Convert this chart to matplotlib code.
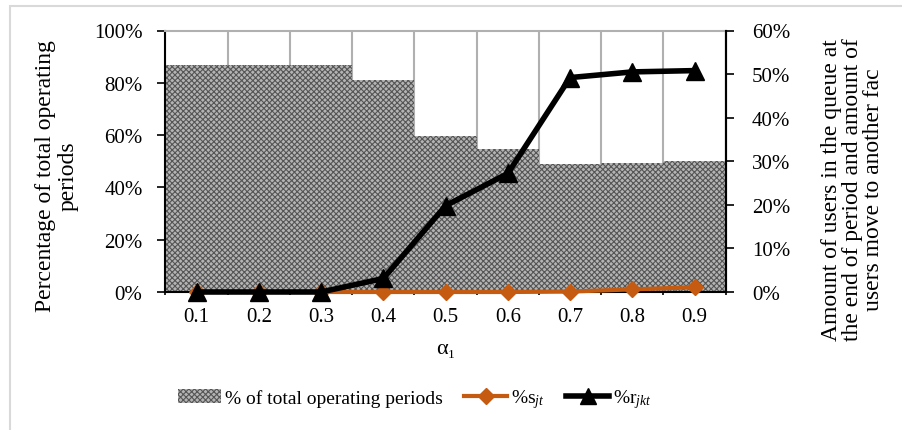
import matplotlib
matplotlib.use("Agg")
import matplotlib.pyplot as plt
from matplotlib.patches import Rectangle, Patch
from matplotlib.lines import Line2D
from matplotlib.ticker import FuncFormatter

alpha = ["0.1", "0.2", "0.3", "0.4", "0.5", "0.6", "0.7", "0.8", "0.9"]
pct_periods = [86.8, 86.8, 86.8, 81.0, 59.7, 54.6, 48.9, 49.4, 50.0]
s_jt = [0.0, 0.0, 0.0, 0.0, 0.0, 0.0, 0.1, 0.6, 1.1]
r_jkt = [0.0, 0.0, 0.0, 3.1, 19.8, 27.2, 49.2, 50.5, 50.8]

plt.rcParams['font.family'] = ['Liberation Serif', 'DejaVu Serif']
plt.rcParams['mathtext.fontset'] = 'custom'
plt.rcParams['mathtext.rm'] = 'Liberation Serif'
plt.rcParams['mathtext.it'] = 'Liberation Serif:italic'
plt.rcParams['hatch.color'] = '#555555'
plt.rcParams['hatch.linewidth'] = 0.8

BAR_FC = '#b4b4b4'

fig = plt.figure(figsize=(9.03, 4.31), dpi=100)
ax = fig.add_axes([165.5/903, 1-293/431, (725.7-165.5)/903, (293-31.5)/431])

x = list(range(len(alpha)))
ax.bar(x, pct_periods, width=1.0, color=BAR_FC, hatch='xxxxxx',
       linewidth=0, zorder=2)
ax.set_xlim(-0.5, len(alpha)-0.5)
ax.set_ylim(0, 100)
ax.set_yticks([0, 20, 40, 60, 80, 100])
ax.yaxis.set_major_formatter(FuncFormatter(lambda v, p: f"{v:.0f}%"))
ax.set_xticks(x)
ax.set_xticklabels(alpha)
ax.set_xticks([i-0.5 for i in range(len(alpha)+1)], minor=True)
ax.tick_params(axis='x', which='major', length=0, labelsize=15, pad=11)
ax.tick_params(axis='x', which='minor', length=5, width=1.2, direction='inout', color='black')
ax.tick_params(axis='y', labelsize=15, length=6, width=1.2, direction='out', pad=10.5)
ax.grid(axis='x', which='minor', color='#b0b0b0', linewidth=1.5, zorder=1)
ax.spines['top'].set_color('#b0b0b0')
ax.spines['top'].set_linewidth(1.5)
for s in ['left', 'bottom', 'right']:
    ax.spines[s].set_linewidth(1.5)
    ax.spines[s].set_color('black')
ax.set_axisbelow(True)

ax2 = ax.twinx()
ax2.set_ylim(0, 60)
ax2.set_yticks([0, 10, 20, 30, 40, 50, 60])
ax2.yaxis.set_major_formatter(FuncFormatter(lambda v, p: f"{v:.0f}%"))
ax2.tick_params(axis='y', labelsize=15, length=6, width=1.2, direction='out', pad=13)
for s in ax2.spines.values():
    s.set_visible(False)
ax2.spines['right'].set_visible(True)
ax2.spines['right'].set_linewidth(1.5)
ax2.plot(x, s_jt, color='#C55A11', linewidth=3, marker='D', markersize=8,
         zorder=3, clip_on=False)
ax2.plot(x, r_jkt, color='black', linewidth=4, marker='^', markersize=13,
         zorder=4, clip_on=False)

fig.text(57/903, 1-176/431, "Percentage of total operating\nperiods", fontsize=17,
         rotation=90, ha='center', va='center', multialignment='center',
         linespacing=1.1)
fig.text(853/903, 1-190/431,
         "Amount of users in the queue at\nthe end of period and amount of\nusers move to another fac",
         fontsize=17, rotation=90, ha='center', va='center', multialignment='center',
         linespacing=1.0)
fig.text(446/903, 1-350/431, "α₁", fontsize=16, ha='center', va='center')

handles = [Patch(facecolor=BAR_FC, hatch='xxxxxx', linewidth=0),
           Line2D([0], [0], color='#C55A11', lw=3, marker='D', markersize=8),
           Line2D([0], [0], color='black', lw=4, marker='^', markersize=12)]
labels = ["% of total operating periods", "%s$_{jt}$", "%r$_{jkt}$"]
fig.legend(handles, labels, loc='center', bbox_to_anchor=(415/903, 1-400/431),
           ncol=3, frameon=False, fontsize=14, handlelength=2.2,
           handletextpad=0.2, columnspacing=1.1)

fig.patches.append(Rectangle((10/903, -0.1), 2.0, 1-7/431+0.1, transform=fig.transFigure,
                             fill=False, edgecolor='#d9d9d9', linewidth=1.5))

fig.savefig("out.png", dpi=100)
